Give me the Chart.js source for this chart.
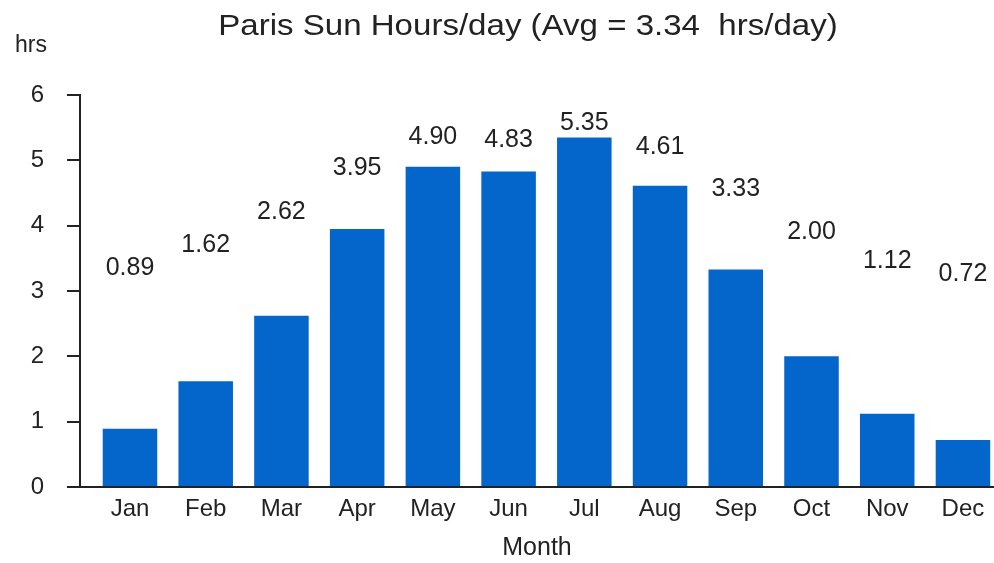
<!DOCTYPE html>
<html>
<head>
<meta charset="utf-8">
<script src="https://cdn.jsdelivr.net/npm/chart.js@4"></script>
<style>
  body { margin: 0; background: #fff; }
  #wrap { width: 994px; height: 563px; }
</style>
</head>
<body>
<div id="wrap"><canvas id="chart" width="994" height="563"></canvas></div>
<script>
// monthly average sun hours per day, Paris
const months = ['Jan', 'Feb', 'Mar', 'Apr', 'May', 'Jun', 'Jul', 'Aug', 'Sep', 'Oct', 'Nov', 'Dec'];
const sunHours = [0.89, 1.62, 2.62, 3.95, 4.90, 4.83, 5.35, 4.61, 3.33, 2.00, 1.12, 0.72];
const yTicks = [0, 1, 2, 3, 4, 5, 6];
const avgHours = 3.34;

const textColor = '#222';
const fontFamily = "'Liberation Sans', Arial, Helvetica, sans-serif";
const titleText = 'Paris Sun Hours/day (Avg = ' + avgHours.toFixed(2) + '  hrs/day)';

// value labels sit halfway between the bar and a line at ~3 hrs, like the original
const valueLabels = {
    id: 'valueLabels',
    afterDatasetsDraw(chart) {
        const { ctx, scales: { x, y } } = chart;
        ctx.save();
        ctx.font = '25px ' + fontFamily;
        ctx.fillStyle = textColor;
        ctx.textAlign = 'center';
        ctx.textBaseline = 'middle';
        sunHours.forEach((v, i) => {
            ctx.fillText(v.toFixed(2), x.getPixelForValue(i), y.getPixelForValue(2.9 + v / 2));
        });
        ctx.restore();
    }
};

// title (a bit wide in the original) and the unit label above the y axis
const headerText = {
    id: 'headerText',
    afterDraw(chart) {
        const { ctx } = chart;
        ctx.save();
        ctx.fillStyle = textColor;
        ctx.textAlign = 'center';
        ctx.textBaseline = 'middle';
        ctx.font = '29px ' + fontFamily;
        ctx.translate(528, 27);
        ctx.scale(1.14, 1);
        ctx.fillText(titleText, 0, 0);
        ctx.restore();

        ctx.save();
        ctx.fillStyle = textColor;
        ctx.textAlign = 'center';
        ctx.textBaseline = 'middle';
        ctx.font = '23px ' + fontFamily;
        ctx.fillText('hrs', 31, 46);
        ctx.restore();
    }
};

const ctx = document.getElementById('chart').getContext('2d');
new Chart(ctx, {
    type: 'bar',
    data: {
        datasets: [{
            data: sunHours.map((v, i) => ({ x: i, y: v })),
            backgroundColor: '#0466cb',
            borderWidth: 0,
            categoryPercentage: 1,
            barPercentage: 0.72
        }]
    },
    options: {
        responsive: false,
        devicePixelRatio: 1,
        animation: false,
        events: [],
        layout: { padding: { top: 95 } },
        plugins: {
            legend: { display: false },
            tooltip: { enabled: false },
            title: { display: false }
        },
        scales: {
            x: {
                type: 'linear',
                offset: false,
                min: -0.66,
                max: 11.41,
                afterFit(scale) { scale.height = 76; },
                ticks: {
                    stepSize: 1,
                    includeBounds: false,
                    autoSkip: false,
                    maxRotation: 0,
                    padding: 0,
                    color: textColor,
                    font: { family: fontFamily, size: 24 },
                    callback: v => months[v] ?? ''
                },
                grid: { display: false },
                border: { display: true, color: textColor, width: 2 },
                title: {
                    display: true,
                    text: 'Month',
                    color: textColor,
                    font: { family: fontFamily, size: 25 },
                    padding: { top: 0, bottom: 0 }
                }
            },
            y: {
                min: yTicks[0],
                max: yTicks[yTicks.length - 1],
                afterFit(scale) { scale.width = 80; },
                afterBuildTicks(scale) { scale.ticks = yTicks.map(v => ({ value: v })); },
                ticks: {
                    padding: 23,
                    color: textColor,
                    font: { family: fontFamily, size: 24 }
                },
                grid: {
                    drawOnChartArea: false,
                    drawTicks: true,
                    tickLength: 13,
                    color: textColor,
                    lineWidth: 2
                },
                border: { display: true, color: textColor, width: 2 }
            }
        }
    },
    plugins: [valueLabels, headerText]
});
</script>
</body>
</html>
